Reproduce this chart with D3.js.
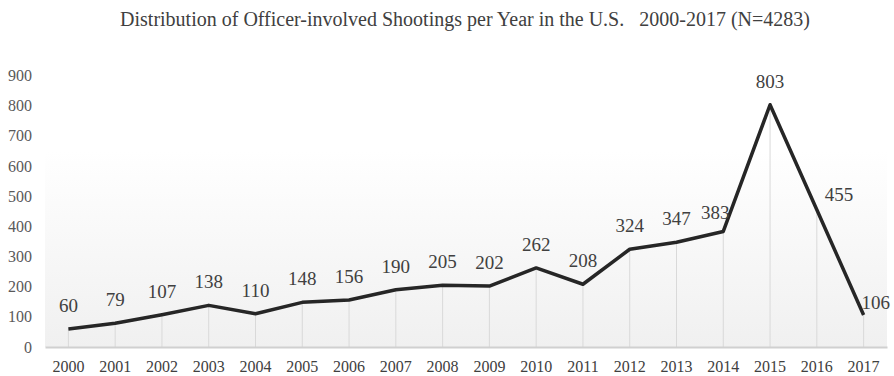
<!DOCTYPE html>
<html>
<head>
<meta charset="utf-8">
<script src="https://cdn.jsdelivr.net/npm/d3@7"></script>
<style>
  html, body { margin: 0; padding: 0; background: #fff; }
  svg { display: block; }
</style>
</head>
<body>
<svg id="chart" width="894" height="376"></svg>
<script>
// Officer-involved shootings per year, U.S., 2000-2017
const years = ["2000","2001","2002","2003","2004","2005","2006","2007","2008",
               "2009","2010","2011","2012","2013","2014","2015","2016","2017"];
const shootings = [60, 79, 107, 138, 110, 148, 156, 190, 205,
                   202, 262, 208, 324, 347, 383, 803, 455, 106];
const yTicks = [0, 100, 200, 300, 400, 500, 600, 700, 800, 900];
const titleText = "Distribution of Officer-involved Shootings per Year in the U.S.   2000-2017 (N=4283)";

const FONT = "'Liberation Serif', 'Times New Roman', serif";
const svg = d3.select("#chart");
const margin = { left: 45, right: 7, top: 75.5, bottom: 29 };
const W = 894, H = 376;
const plotL = margin.left, plotR = W - margin.right;
const plotT = margin.top, plotB = H - margin.bottom;

const x = d3.scaleBand().domain(years).range([plotL, plotR]);
const cx = d => x(d) + x.bandwidth() / 2;
const y = d3.scaleLinear().domain([0, 900]).range([plotB, plotT]);

// soft vertical gradient behind the lower part of the plot
const defs = svg.append("defs");
const grad = defs.append("linearGradient")
  .attr("id", "bg").attr("x1", 0).attr("y1", 0).attr("x2", 0).attr("y2", 1);
grad.append("stop").attr("offset", "0%").attr("stop-color", "#ffffff");
grad.append("stop").attr("offset", "100%").attr("stop-color", "#f0f0f0");
svg.append("rect")
  .attr("x", plotL).attr("y", y(650))
  .attr("width", plotR - plotL).attr("height", plotB - y(650))
  .attr("fill", "url(#bg)");

// title
svg.append("text")
  .attr("x", 465).attr("y", 26)
  .attr("text-anchor", "middle")
  .style("white-space", "pre")
  .style("font-family", FONT)
  .style("font-size", "20px")
  .attr("fill", "#404040")
  .text(titleText);

// y axis labels (no axis line)
const yAxis = d3.axisLeft(y).tickValues(yTicks).tickSize(0).tickPadding(0);
const gy = svg.append("g").attr("transform", `translate(${32},0)`).call(yAxis);
gy.select(".domain").remove();
gy.selectAll("text")
  .style("font-family", FONT)
  .style("font-size", "16px").attr("fill", "#595959");

// drop lines from each point to the baseline
svg.append("g").selectAll("line")
  .data(years)
  .join("line")
  .attr("x1", d => cx(d)).attr("x2", d => cx(d))
  .attr("y1", (d, i) => y(shootings[i])).attr("y2", plotB)
  .attr("stroke", "#d9d9d9").attr("stroke-width", 1);

// x axis (baseline + year labels)
const xAxis = d3.axisBottom(x).tickSize(0).tickPadding(13.5);
const gx = svg.append("g").attr("transform", `translate(0,${plotB})`).call(xAxis);
gx.select(".domain").attr("stroke", "#d0d0d0").attr("stroke-width", 2);
gx.selectAll("text")
  .style("font-family", FONT)
  .style("font-size", "16px").attr("fill", "#404040");

// the series line
const line = d3.line()
  .x((d, i) => cx(years[i]))
  .y(d => y(d));
svg.append("path")
  .datum(shootings)
  .attr("d", line)
  .attr("fill", "none")
  .attr("stroke", "#262626")
  .attr("stroke-width", 3.5)
  .attr("stroke-linejoin", "round");

// value labels: above by default, a few nudged to clear the line
const nudge = {
  "2014": { dx: -8, dy: -12, anchor: "middle" },
  "2016": { dx: 8, dy: -9, anchor: "start" },
  "2017": { dx: -2, dy: -6, anchor: "start" }
};
svg.append("g").selectAll("text")
  .data(years)
  .join("text")
  .attr("x", d => cx(d) + (nudge[d] ? nudge[d].dx : 0))
  .attr("y", (d, i) => y(shootings[i]) + (nudge[d] ? nudge[d].dy : -17))
  .attr("text-anchor", d => nudge[d] ? nudge[d].anchor : "middle")
  .style("font-family", FONT)
  .style("font-size", "19px")
  .attr("fill", "#404040")
  .text((d, i) => shootings[i]);
</script>
</body>
</html>
